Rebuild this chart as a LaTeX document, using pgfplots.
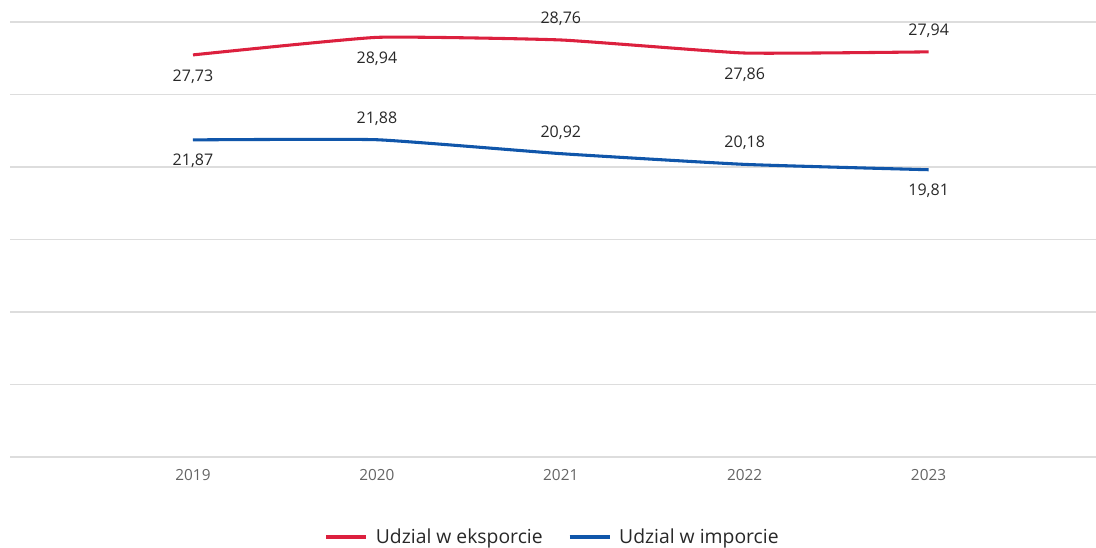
\documentclass[border=0pt]{standalone}
\usepackage{fontspec}
\setmainfont{Open Sans}
\usepackage{pgfplots}
\pgfplotsset{compat=1.18}
\definecolor{cred}{RGB}{220,32,62}
\definecolor{cblue}{RGB}{16,86,170}
\definecolor{cgrid}{RGB}{221,221,221}
\definecolor{ctick}{RGB}{100,100,100}
\definecolor{clab}{RGB}{40,40,40}
\begin{document}
\begin{tikzpicture}
\path[use as bounding box] (-7.5pt,-68.25pt) rectangle (814.5pt,342.75pt);
\begin{axis}[
  at={(0,0)}, anchor=south west,
  scale only axis, width=814.5pt, height=326.25pt,
  xmin=2018.005, xmax=2023.91, ymin=0, ymax=30,
  axis line style={draw=none},
  major tick length=0pt,
  ytick={0,5,...,30}, yticklabels={},
  ymajorgrids, grid style={cgrid, line width=1.1pt},
  xtick={2019,...,2023},
  xticklabels={2019,2020,2021,2022,2023},
  xticklabel style={font=\fontsize{11.5}{13}\selectfont, text=ctick, yshift=-6pt},
  /pgf/number format/assume math mode=true,
  /pgf/number format/.cd, use comma, fixed, fixed zerofill, precision=2, 1000 sep={},
  /pgfplots/.cd,
  clip=false,
  legend columns=2,
  legend style={at={(0.5,-0.184)}, anchor=center, draw=none, fill=none,
    font=\fontsize{14.5}{16}\selectfont, text=clab,
    /tikz/every even column/.append style={column sep=17pt}},
  legend image code/.code={\draw[#1, line width=2.4pt] (0pt,0pt) -- (30pt,0pt);},
  every node near coord/.append style={font=\fontsize{12}{14}\selectfont, text=clab, anchor=center},
]
\addplot[cred, line width=2.3pt, smooth, tension=0.25] coordinates {
 (2019,27.73) (2020,28.94) (2021,28.76) (2022,27.86) (2023,27.94)};
\addlegendentry{\hspace{4pt}Udzial w eksporcie}
\addplot[cblue, line width=2.3pt, smooth, tension=0.25] coordinates {
 (2019,21.87) (2020,21.88) (2021,20.92) (2022,20.18) (2023,19.81)};
\addlegendentry{\hspace{4pt}Udzial w imporcie}
% labels below
\addplot[draw=none, forget plot, nodes near coords, every node near coord/.append style={yshift=-16pt}] coordinates {
 (2019,27.73) (2020,28.94) (2022,27.86) (2019,21.87) (2023,19.81)};
% labels above
\addplot[draw=none, forget plot, nodes near coords, every node near coord/.append style={yshift=16pt}] coordinates {
 (2021,28.76) (2023,27.94) (2020,21.88) (2021,20.92) (2022,20.18)};
\end{axis}
\end{tikzpicture}
\end{document}
